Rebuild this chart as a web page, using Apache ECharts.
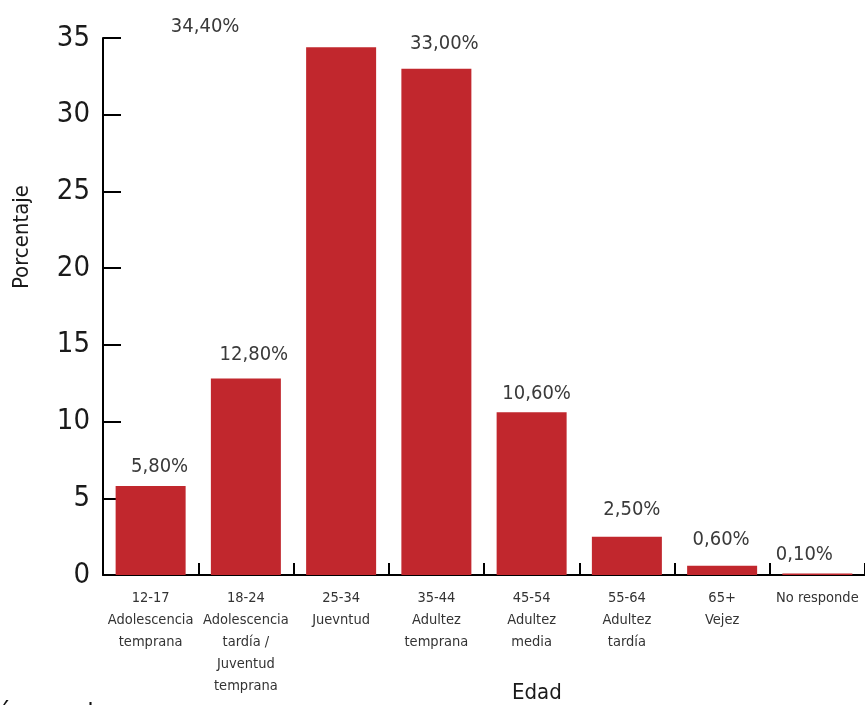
<!DOCTYPE html>
<html>
<head>
<meta charset="utf-8">
<style>
html,body{margin:0;padding:0;background:#fff;}
#chart{width:865px;height:706px;}
</style>
<script src="https://cdn.jsdelivr.net/npm/echarts@6/dist/echarts.min.js"></script>
</head>
<body>
<div id="chart"></div>
<script>
var categories = [
  "12-17\nAdolescencia\ntemprana",
  "18-24\nAdolescencia\ntardía /\nJuventud\ntemprana",
  "25-34\nJuevntud",
  "35-44\nAdultez\ntemprana",
  "45-54\nAdultez\nmedia",
  "55-64\nAdultez\ntardía",
  "65+\nVejez",
  "No responde"
];
var percentages = [5.8, 12.8, 34.4, 33.0, 10.6, 2.5, 0.6, 0.1];
var yTicks = [0, 5, 10, 15, 20, 25, 30, 35];
var xAxisTitle = "Edad";
var yAxisTitle = "Porcentaje";
var sourceNote = "Fuente: Elaboración propia";

// label placement tweaks (style only)
var labelOffsets = [[9,0],[8,-5],[-136,-1],[8,-6],[5,0],[5,-8],[-1,-7],[-13,0]];

var FONT = "'Liberation Sans Narrow','DejaVu Sans Condensed','Open Sans',sans-serif";
var chart = echarts.init(document.getElementById('chart'));

var seriesData = percentages.map(function(v, i){
  return {value: v, label: {offset: labelOffsets[i]}};
});

chart.setOption({
  animation: false,
  grid: {left: 103, top: 38, width: 768, height: 537, containLabel: false},
  xAxis: {
    type: 'category',
    data: categories,
    axisLine: {lineStyle: {color: '#000', width: 2}},
    axisTick: {show: true, inside: true, length: 12, lineStyle: {color: '#000', width: 2}},
    axisLabel: {color: '#333', fontFamily: FONT, fontSize: 14.5, lineHeight: 22, margin: 12, interval: 0}
  },
  yAxis: {
    type: 'value',
    min: yTicks[0],
    max: yTicks[yTicks.length - 1],
    interval: yTicks[1] - yTicks[0],
    splitLine: {show: false},
    axisLine: {show: true, lineStyle: {color: '#000', width: 2}},
    axisTick: {show: true, inside: true, length: 18, lineStyle: {color: '#000', width: 2}},
    axisLabel: {color: '#1a1a1a', fontFamily: FONT, fontSize: 29, margin: 13}
  },
  series: [{
    type: 'bar',
    data: seriesData,
    barWidth: 70,
    itemStyle: {color: '#C1272D'},
    label: {
      show: true,
      position: 'top',
      distance: 9,
      color: '#3a3a3a',
      fontFamily: FONT,
      fontSize: 20,
      formatter: function(p){ return p.value.toFixed(2).replace('.', ',') + '%'; }
    }
  }],
  graphic: [
    {type: 'text', left: 512, top: 682,
     style: {text: xAxisTitle, font: "22px " + FONT, fill: '#1a1a1a'}},
    {type: 'text', x: 22, y: 237, rotation: Math.PI/2,
     style: {text: yAxisTitle, font: "22px " + FONT, fill: '#1a1a1a', align: 'center', verticalAlign: 'middle'}},
    {type: 'text', x: 108, y: 728,
     style: {text: sourceNote, font: "26px " + FONT, fill: '#111', align: 'right', verticalAlign: 'bottom'}}
  ]
});
</script>
</body>
</html>
